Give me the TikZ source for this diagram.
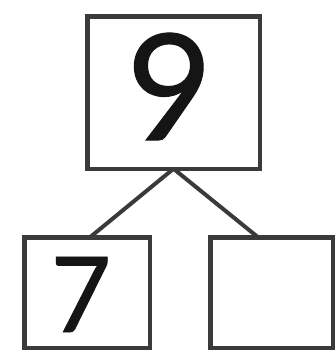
\documentclass[tikz,border=0pt]{standalone}
\usepackage{fontspec}
\setmainfont{Lato}
\newfontfamily\digitfont[FakeBold=0.7]{Lato}
\usetikzlibrary{calc}
\definecolor{edge}{HTML}{3A3A3A}
\definecolor{ink}{HTML}{151515}
\begin{document}
\begin{tikzpicture}[x=1pt,y=-1pt,
  numbox/.style={draw=edge,line width=4.5pt,fill=white,inner sep=0pt,outer sep=0pt},
  digit/.style={inner sep=0pt,text=ink},
  link/.style={draw=edge,line width=4pt}]
\useasboundingbox (0,0) rectangle (336,354);
\node[numbox,minimum width=172.5pt,minimum height=152.5pt] (top) at (173.5,92.5) {};
\node[numbox,minimum width=125.5pt,minimum height=110.5pt] (lft) at (87,292.5) {};
\node[numbox,minimum width=122.5pt,minimum height=110.5pt] (rgt) at (271.5,292.5) {};
\node[digit,font=\digitfont\fontsize{148}{148}\selectfont] (nine) at ($(top.center)+(-4,-6)$) {9};
\node[digit,font=\digitfont\fontsize{105}{105}\selectfont] (seven) at ($(lft.center)+(-6,2)$) {7};
\coordinate (lend) at ($(lft.north west)!0.524!(lft.north east)$);
\coordinate (rend) at ($(rgt.north west)!0.39!(rgt.north east)$);
\draw[link] (top.south) -- (lend);
\draw[link] (top.south) -- (rend);
\end{tikzpicture}
\end{document}
